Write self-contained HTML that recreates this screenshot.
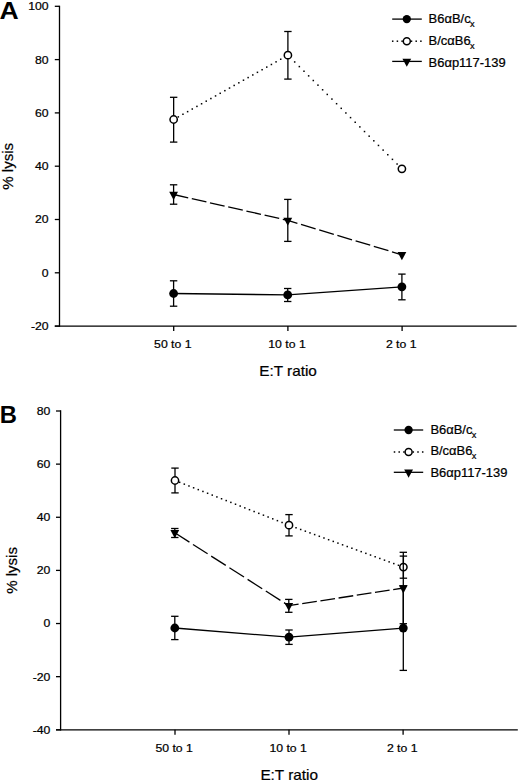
<!DOCTYPE html>
<html><head><meta charset="utf-8"><style>
html,body{margin:0;padding:0;background:#fff;}
body{width:520px;height:781px;overflow:hidden;}
svg{display:block;}
text{font-family:"Liberation Sans", sans-serif;fill:#000;}
</style></head><body>
<svg width="520" height="781" viewBox="0 0 520 781">
<line x1="59.50" y1="5.65" x2="59.50" y2="326.75" stroke="#000" stroke-width="1.3"/>
<line x1="54.80" y1="326.10" x2="516.60" y2="326.10" stroke="#000" stroke-width="1.3"/>
<line x1="54.80" y1="6.30" x2="59.50" y2="6.30" stroke="#000" stroke-width="1.3"/>
<text transform="translate(48.60,10.20) scale(1.075,1.0)" font-size="11.4" text-anchor="end" font-weight="normal" stroke="#000" stroke-width="0.22">100</text>
<line x1="54.80" y1="59.60" x2="59.50" y2="59.60" stroke="#000" stroke-width="1.3"/>
<text transform="translate(48.60,63.50) scale(1.075,1.0)" font-size="11.4" text-anchor="end" font-weight="normal" stroke="#000" stroke-width="0.22">80</text>
<line x1="54.80" y1="112.90" x2="59.50" y2="112.90" stroke="#000" stroke-width="1.3"/>
<text transform="translate(48.60,116.80) scale(1.075,1.0)" font-size="11.4" text-anchor="end" font-weight="normal" stroke="#000" stroke-width="0.22">60</text>
<line x1="54.80" y1="166.20" x2="59.50" y2="166.20" stroke="#000" stroke-width="1.3"/>
<text transform="translate(48.60,170.10) scale(1.075,1.0)" font-size="11.4" text-anchor="end" font-weight="normal" stroke="#000" stroke-width="0.22">40</text>
<line x1="54.80" y1="219.50" x2="59.50" y2="219.50" stroke="#000" stroke-width="1.3"/>
<text transform="translate(48.60,223.40) scale(1.075,1.0)" font-size="11.4" text-anchor="end" font-weight="normal" stroke="#000" stroke-width="0.22">20</text>
<line x1="54.80" y1="272.80" x2="59.50" y2="272.80" stroke="#000" stroke-width="1.3"/>
<text transform="translate(48.60,276.70) scale(1.075,1.0)" font-size="11.4" text-anchor="end" font-weight="normal" stroke="#000" stroke-width="0.22">0</text>
<line x1="54.80" y1="326.10" x2="59.50" y2="326.10" stroke="#000" stroke-width="1.3"/>
<text transform="translate(48.60,330.00) scale(1.075,1.0)" font-size="11.4" text-anchor="end" font-weight="normal" stroke="#000" stroke-width="0.22">-20</text>
<line x1="173.70" y1="326.10" x2="173.70" y2="331.10" stroke="#000" stroke-width="1.3"/>
<text transform="translate(172.80,348.00) scale(1.075,1.0)" font-size="11.4" text-anchor="middle" font-weight="normal" stroke="#000" stroke-width="0.22">50 to 1</text>
<line x1="287.90" y1="326.10" x2="287.90" y2="331.10" stroke="#000" stroke-width="1.3"/>
<text transform="translate(287.00,348.00) scale(1.075,1.0)" font-size="11.4" text-anchor="middle" font-weight="normal" stroke="#000" stroke-width="0.22">10 to 1</text>
<line x1="402.10" y1="326.10" x2="402.10" y2="331.10" stroke="#000" stroke-width="1.3"/>
<text transform="translate(401.20,348.00) scale(1.075,1.0)" font-size="11.4" text-anchor="middle" font-weight="normal" stroke="#000" stroke-width="0.22">2 to 1</text>
<text transform="translate(288.05,376.40) scale(1.05,1.0)" font-size="14.6" text-anchor="middle" font-weight="normal" stroke="#000" stroke-width="0.22">E:T ratio</text>
<text x="0.00" y="0.00" font-size="14.6" text-anchor="middle" font-weight="normal" stroke="#000" stroke-width="0.22" transform="translate(12.60,166.30) rotate(-90) scale(1.03,1.0)">% lysis</text>
<text transform="translate(-0.50,18.90) scale(1.09,1.0)" font-size="24.4" text-anchor="start" font-weight="bold">A</text>
<polyline points="173.60,293.50 287.70,294.90 401.90,286.80" fill="none" stroke="#000" stroke-width="1.3" stroke-linejoin="round"/>
<line x1="173.60" y1="280.80" x2="173.60" y2="306.20" stroke="#000" stroke-width="1.3"/>
<line x1="169.90" y1="280.80" x2="177.30" y2="280.80" stroke="#000" stroke-width="1.3"/>
<line x1="169.90" y1="306.20" x2="177.30" y2="306.20" stroke="#000" stroke-width="1.3"/>
<line x1="287.70" y1="288.50" x2="287.70" y2="301.50" stroke="#000" stroke-width="1.3"/>
<line x1="284.00" y1="288.50" x2="291.40" y2="288.50" stroke="#000" stroke-width="1.3"/>
<line x1="284.00" y1="301.50" x2="291.40" y2="301.50" stroke="#000" stroke-width="1.3"/>
<line x1="401.90" y1="274.10" x2="401.90" y2="299.80" stroke="#000" stroke-width="1.3"/>
<line x1="398.20" y1="274.10" x2="405.60" y2="274.10" stroke="#000" stroke-width="1.3"/>
<line x1="398.20" y1="299.80" x2="405.60" y2="299.80" stroke="#000" stroke-width="1.3"/>
<circle cx="173.60" cy="293.50" r="4.4" fill="#000"/>
<circle cx="287.70" cy="294.90" r="4.4" fill="#000"/>
<circle cx="401.90" cy="286.80" r="4.4" fill="#000"/>
<rect x="172.90" y="118.75" width="1.5" height="1.5" fill="#000"/>
<rect x="177.56" y="116.13" width="1.5" height="1.5" fill="#000"/>
<rect x="182.21" y="113.51" width="1.5" height="1.5" fill="#000"/>
<rect x="186.87" y="110.89" width="1.5" height="1.5" fill="#000"/>
<rect x="191.52" y="108.27" width="1.5" height="1.5" fill="#000"/>
<rect x="196.18" y="105.65" width="1.5" height="1.5" fill="#000"/>
<rect x="200.83" y="103.03" width="1.5" height="1.5" fill="#000"/>
<rect x="205.49" y="100.41" width="1.5" height="1.5" fill="#000"/>
<rect x="210.14" y="97.79" width="1.5" height="1.5" fill="#000"/>
<rect x="214.80" y="95.17" width="1.5" height="1.5" fill="#000"/>
<rect x="219.45" y="92.55" width="1.5" height="1.5" fill="#000"/>
<rect x="224.11" y="89.93" width="1.5" height="1.5" fill="#000"/>
<rect x="228.76" y="87.31" width="1.5" height="1.5" fill="#000"/>
<rect x="233.42" y="84.69" width="1.5" height="1.5" fill="#000"/>
<rect x="238.07" y="82.07" width="1.5" height="1.5" fill="#000"/>
<rect x="242.73" y="79.45" width="1.5" height="1.5" fill="#000"/>
<rect x="247.38" y="76.83" width="1.5" height="1.5" fill="#000"/>
<rect x="252.04" y="74.21" width="1.5" height="1.5" fill="#000"/>
<rect x="256.69" y="71.59" width="1.5" height="1.5" fill="#000"/>
<rect x="261.35" y="68.97" width="1.5" height="1.5" fill="#000"/>
<rect x="266.00" y="66.35" width="1.5" height="1.5" fill="#000"/>
<rect x="270.66" y="63.73" width="1.5" height="1.5" fill="#000"/>
<rect x="275.31" y="61.11" width="1.5" height="1.5" fill="#000"/>
<rect x="279.97" y="58.49" width="1.5" height="1.5" fill="#000"/>
<rect x="284.62" y="55.87" width="1.5" height="1.5" fill="#000"/>
<rect x="289.27" y="56.57" width="1.5" height="1.5" fill="#000"/>
<rect x="293.93" y="61.21" width="1.5" height="1.5" fill="#000"/>
<rect x="298.59" y="65.84" width="1.5" height="1.5" fill="#000"/>
<rect x="303.24" y="70.48" width="1.5" height="1.5" fill="#000"/>
<rect x="307.89" y="75.12" width="1.5" height="1.5" fill="#000"/>
<rect x="312.55" y="79.76" width="1.5" height="1.5" fill="#000"/>
<rect x="317.21" y="84.40" width="1.5" height="1.5" fill="#000"/>
<rect x="321.86" y="89.04" width="1.5" height="1.5" fill="#000"/>
<rect x="326.51" y="93.68" width="1.5" height="1.5" fill="#000"/>
<rect x="331.17" y="98.32" width="1.5" height="1.5" fill="#000"/>
<rect x="335.83" y="102.95" width="1.5" height="1.5" fill="#000"/>
<rect x="340.48" y="107.59" width="1.5" height="1.5" fill="#000"/>
<rect x="345.13" y="112.23" width="1.5" height="1.5" fill="#000"/>
<rect x="349.79" y="116.87" width="1.5" height="1.5" fill="#000"/>
<rect x="354.45" y="121.51" width="1.5" height="1.5" fill="#000"/>
<rect x="359.10" y="126.15" width="1.5" height="1.5" fill="#000"/>
<rect x="363.75" y="130.79" width="1.5" height="1.5" fill="#000"/>
<rect x="368.41" y="135.42" width="1.5" height="1.5" fill="#000"/>
<rect x="373.07" y="140.06" width="1.5" height="1.5" fill="#000"/>
<rect x="377.72" y="144.70" width="1.5" height="1.5" fill="#000"/>
<rect x="382.38" y="149.34" width="1.5" height="1.5" fill="#000"/>
<rect x="387.03" y="153.98" width="1.5" height="1.5" fill="#000"/>
<rect x="391.69" y="158.62" width="1.5" height="1.5" fill="#000"/>
<rect x="396.34" y="163.26" width="1.5" height="1.5" fill="#000"/>
<rect x="401.00" y="167.90" width="1.5" height="1.5" fill="#000"/>
<line x1="173.65" y1="97.30" x2="173.65" y2="142.10" stroke="#000" stroke-width="1.3"/>
<line x1="169.95" y1="97.30" x2="177.35" y2="97.30" stroke="#000" stroke-width="1.3"/>
<line x1="169.95" y1="142.10" x2="177.35" y2="142.10" stroke="#000" stroke-width="1.3"/>
<line x1="287.90" y1="31.50" x2="287.90" y2="79.10" stroke="#000" stroke-width="1.3"/>
<line x1="284.20" y1="31.50" x2="291.60" y2="31.50" stroke="#000" stroke-width="1.3"/>
<line x1="284.20" y1="79.10" x2="291.60" y2="79.10" stroke="#000" stroke-width="1.3"/>
<circle cx="173.65" cy="119.50" r="3.65" fill="#fff" stroke="#000" stroke-width="1.5"/>
<circle cx="287.90" cy="55.20" r="3.65" fill="#fff" stroke="#000" stroke-width="1.5"/>
<circle cx="401.90" cy="168.80" r="3.65" fill="#fff" stroke="#000" stroke-width="1.5"/>
<polyline points="173.60,194.50 188.20,197.81" fill="none" stroke="#000" stroke-width="1.3" stroke-linejoin="round"/>
<polyline points="191.80,198.63 206.40,201.94" fill="none" stroke="#000" stroke-width="1.3" stroke-linejoin="round"/>
<polyline points="210.00,202.76 224.60,206.07" fill="none" stroke="#000" stroke-width="1.3" stroke-linejoin="round"/>
<polyline points="228.20,206.88 242.80,210.19" fill="none" stroke="#000" stroke-width="1.3" stroke-linejoin="round"/>
<polyline points="246.40,211.01 261.00,214.32" fill="none" stroke="#000" stroke-width="1.3" stroke-linejoin="round"/>
<polyline points="264.60,215.14 279.20,218.45" fill="none" stroke="#000" stroke-width="1.3" stroke-linejoin="round"/>
<polyline points="282.80,219.27 287.80,220.40 297.40,223.29" fill="none" stroke="#000" stroke-width="1.3" stroke-linejoin="round"/>
<polyline points="301.00,224.38 315.60,228.78" fill="none" stroke="#000" stroke-width="1.3" stroke-linejoin="round"/>
<polyline points="319.20,229.87 333.80,234.27" fill="none" stroke="#000" stroke-width="1.3" stroke-linejoin="round"/>
<polyline points="337.40,235.35 352.00,239.76" fill="none" stroke="#000" stroke-width="1.3" stroke-linejoin="round"/>
<polyline points="355.60,240.84 370.20,245.24" fill="none" stroke="#000" stroke-width="1.3" stroke-linejoin="round"/>
<polyline points="373.80,246.33 388.40,250.73" fill="none" stroke="#000" stroke-width="1.3" stroke-linejoin="round"/>
<polyline points="392.00,251.82 401.90,254.80" fill="none" stroke="#000" stroke-width="1.3" stroke-linejoin="round"/>
<line x1="173.60" y1="184.80" x2="173.60" y2="204.20" stroke="#000" stroke-width="1.3"/>
<line x1="169.90" y1="184.80" x2="177.30" y2="184.80" stroke="#000" stroke-width="1.3"/>
<line x1="169.90" y1="204.20" x2="177.30" y2="204.20" stroke="#000" stroke-width="1.3"/>
<line x1="287.80" y1="199.40" x2="287.80" y2="241.40" stroke="#000" stroke-width="1.3"/>
<line x1="284.10" y1="199.40" x2="291.50" y2="199.40" stroke="#000" stroke-width="1.3"/>
<line x1="284.10" y1="241.40" x2="291.50" y2="241.40" stroke="#000" stroke-width="1.3"/>
<polygon points="169.20,191.80 178.00,191.80 173.60,199.90" fill="#000"/>
<polygon points="283.40,217.70 292.20,217.70 287.80,225.80" fill="#000"/>
<polygon points="397.50,252.10 406.30,252.10 401.90,260.20" fill="#000"/>
<line x1="392.20" y1="19.10" x2="421.80" y2="19.10" stroke="#000" stroke-width="1.3"/>
<circle cx="406.80" cy="19.10" r="4.15" fill="#000"/>
<text transform="translate(428.60,22.70) scale(1.08,1.0)" font-size="12" text-anchor="start" font-weight="normal" stroke="#000" stroke-width="0.22">B6&#945;B/c<tspan font-size="8.5" dx="-0.6" dy="3.9">x</tspan></text>
<rect x="391.95" y="40.45" width="1.5" height="1.5" fill="#000"/>
<rect x="396.65" y="40.45" width="1.5" height="1.5" fill="#000"/>
<rect x="401.35" y="40.45" width="1.5" height="1.5" fill="#000"/>
<rect x="406.05" y="40.45" width="1.5" height="1.5" fill="#000"/>
<rect x="410.75" y="40.45" width="1.5" height="1.5" fill="#000"/>
<rect x="415.45" y="40.45" width="1.5" height="1.5" fill="#000"/>
<rect x="420.15" y="40.45" width="1.5" height="1.5" fill="#000"/>
<circle cx="406.80" cy="41.20" r="3.5" fill="#fff" stroke="#000" stroke-width="1.5"/>
<text transform="translate(428.60,44.90) scale(1.08,1.0)" font-size="12" text-anchor="start" font-weight="normal" stroke="#000" stroke-width="0.22">B/c&#945;B6<tspan font-size="8.5" dx="-0.6" dy="3.9">x</tspan></text>
<line x1="392.20" y1="61.40" x2="421.80" y2="61.40" stroke="#000" stroke-width="1.3"/>
<polygon points="402.40,58.70 411.20,58.70 406.80,66.80" fill="#000"/>
<text transform="translate(428.60,66.70) scale(1.08,1.0)" font-size="12" text-anchor="start" font-weight="normal" stroke="#000" stroke-width="0.22">B6&#945;p117-139</text>
<line x1="60.60" y1="410.35" x2="60.60" y2="730.45" stroke="#000" stroke-width="1.3"/>
<line x1="56.00" y1="729.80" x2="517.80" y2="729.80" stroke="#000" stroke-width="1.3"/>
<line x1="56.00" y1="411.00" x2="60.60" y2="411.00" stroke="#000" stroke-width="1.3"/>
<text transform="translate(50.40,414.90) scale(1.075,1.0)" font-size="11.4" text-anchor="end" font-weight="normal" stroke="#000" stroke-width="0.22">80</text>
<line x1="56.00" y1="464.13" x2="60.60" y2="464.13" stroke="#000" stroke-width="1.3"/>
<text transform="translate(50.40,468.03) scale(1.075,1.0)" font-size="11.4" text-anchor="end" font-weight="normal" stroke="#000" stroke-width="0.22">60</text>
<line x1="56.00" y1="517.27" x2="60.60" y2="517.27" stroke="#000" stroke-width="1.3"/>
<text transform="translate(50.40,521.17) scale(1.075,1.0)" font-size="11.4" text-anchor="end" font-weight="normal" stroke="#000" stroke-width="0.22">40</text>
<line x1="56.00" y1="570.40" x2="60.60" y2="570.40" stroke="#000" stroke-width="1.3"/>
<text transform="translate(50.40,574.30) scale(1.075,1.0)" font-size="11.4" text-anchor="end" font-weight="normal" stroke="#000" stroke-width="0.22">20</text>
<line x1="56.00" y1="623.53" x2="60.60" y2="623.53" stroke="#000" stroke-width="1.3"/>
<text transform="translate(50.40,627.43) scale(1.075,1.0)" font-size="11.4" text-anchor="end" font-weight="normal" stroke="#000" stroke-width="0.22">0</text>
<line x1="56.00" y1="676.67" x2="60.60" y2="676.67" stroke="#000" stroke-width="1.3"/>
<text transform="translate(50.40,680.57) scale(1.075,1.0)" font-size="11.4" text-anchor="end" font-weight="normal" stroke="#000" stroke-width="0.22">-20</text>
<line x1="56.00" y1="729.80" x2="60.60" y2="729.80" stroke="#000" stroke-width="1.3"/>
<text transform="translate(50.40,733.70) scale(1.075,1.0)" font-size="11.4" text-anchor="end" font-weight="normal" stroke="#000" stroke-width="0.22">-40</text>
<line x1="175.00" y1="729.80" x2="175.00" y2="734.80" stroke="#000" stroke-width="1.3"/>
<text transform="translate(174.10,752.40) scale(1.075,1.0)" font-size="11.4" text-anchor="middle" font-weight="normal" stroke="#000" stroke-width="0.22">50 to 1</text>
<line x1="289.00" y1="729.80" x2="289.00" y2="734.80" stroke="#000" stroke-width="1.3"/>
<text transform="translate(288.10,752.40) scale(1.075,1.0)" font-size="11.4" text-anchor="middle" font-weight="normal" stroke="#000" stroke-width="0.22">10 to 1</text>
<line x1="403.10" y1="729.80" x2="403.10" y2="734.80" stroke="#000" stroke-width="1.3"/>
<text transform="translate(402.20,752.40) scale(1.075,1.0)" font-size="11.4" text-anchor="middle" font-weight="normal" stroke="#000" stroke-width="0.22">2 to 1</text>
<text transform="translate(289.20,779.60) scale(1.05,1.0)" font-size="14.6" text-anchor="middle" font-weight="normal" stroke="#000" stroke-width="0.22">E:T ratio</text>
<text x="0.00" y="0.00" font-size="14.6" text-anchor="middle" font-weight="normal" stroke="#000" stroke-width="0.22" transform="translate(17.10,570.40) rotate(-90) scale(1.03,1.0)">% lysis</text>
<text transform="translate(-0.20,423.00) scale(0.975,1.0)" font-size="24.4" text-anchor="start" font-weight="bold">B</text>
<polyline points="174.80,628.00 289.00,637.20 403.30,628.10" fill="none" stroke="#000" stroke-width="1.3" stroke-linejoin="round"/>
<line x1="174.80" y1="616.30" x2="174.80" y2="639.60" stroke="#000" stroke-width="1.3"/>
<line x1="171.10" y1="616.30" x2="178.50" y2="616.30" stroke="#000" stroke-width="1.3"/>
<line x1="171.10" y1="639.60" x2="178.50" y2="639.60" stroke="#000" stroke-width="1.3"/>
<line x1="289.00" y1="630.00" x2="289.00" y2="644.40" stroke="#000" stroke-width="1.3"/>
<line x1="285.30" y1="630.00" x2="292.70" y2="630.00" stroke="#000" stroke-width="1.3"/>
<line x1="285.30" y1="644.40" x2="292.70" y2="644.40" stroke="#000" stroke-width="1.3"/>
<line x1="403.30" y1="585.80" x2="403.30" y2="670.40" stroke="#000" stroke-width="1.3"/>
<line x1="399.60" y1="585.80" x2="407.00" y2="585.80" stroke="#000" stroke-width="1.3"/>
<line x1="399.60" y1="670.40" x2="407.00" y2="670.40" stroke="#000" stroke-width="1.3"/>
<circle cx="174.80" cy="628.00" r="4.4" fill="#000"/>
<circle cx="289.00" cy="637.20" r="4.4" fill="#000"/>
<circle cx="403.30" cy="628.10" r="4.4" fill="#000"/>
<rect x="174.25" y="479.75" width="1.5" height="1.5" fill="#000"/>
<rect x="178.91" y="481.58" width="1.5" height="1.5" fill="#000"/>
<rect x="183.56" y="483.40" width="1.5" height="1.5" fill="#000"/>
<rect x="188.22" y="485.23" width="1.5" height="1.5" fill="#000"/>
<rect x="192.87" y="487.05" width="1.5" height="1.5" fill="#000"/>
<rect x="197.53" y="488.88" width="1.5" height="1.5" fill="#000"/>
<rect x="202.18" y="490.70" width="1.5" height="1.5" fill="#000"/>
<rect x="206.84" y="492.53" width="1.5" height="1.5" fill="#000"/>
<rect x="211.49" y="494.35" width="1.5" height="1.5" fill="#000"/>
<rect x="216.15" y="496.18" width="1.5" height="1.5" fill="#000"/>
<rect x="220.80" y="498.00" width="1.5" height="1.5" fill="#000"/>
<rect x="225.46" y="499.83" width="1.5" height="1.5" fill="#000"/>
<rect x="230.11" y="501.65" width="1.5" height="1.5" fill="#000"/>
<rect x="234.76" y="503.48" width="1.5" height="1.5" fill="#000"/>
<rect x="239.42" y="505.30" width="1.5" height="1.5" fill="#000"/>
<rect x="244.07" y="507.13" width="1.5" height="1.5" fill="#000"/>
<rect x="248.73" y="508.95" width="1.5" height="1.5" fill="#000"/>
<rect x="253.38" y="510.78" width="1.5" height="1.5" fill="#000"/>
<rect x="258.04" y="512.60" width="1.5" height="1.5" fill="#000"/>
<rect x="262.69" y="514.43" width="1.5" height="1.5" fill="#000"/>
<rect x="267.35" y="516.25" width="1.5" height="1.5" fill="#000"/>
<rect x="272.00" y="518.08" width="1.5" height="1.5" fill="#000"/>
<rect x="276.66" y="519.91" width="1.5" height="1.5" fill="#000"/>
<rect x="281.31" y="521.73" width="1.5" height="1.5" fill="#000"/>
<rect x="285.97" y="523.56" width="1.5" height="1.5" fill="#000"/>
<rect x="290.62" y="525.32" width="1.5" height="1.5" fill="#000"/>
<rect x="295.28" y="527.02" width="1.5" height="1.5" fill="#000"/>
<rect x="299.94" y="528.73" width="1.5" height="1.5" fill="#000"/>
<rect x="304.59" y="530.43" width="1.5" height="1.5" fill="#000"/>
<rect x="309.25" y="532.14" width="1.5" height="1.5" fill="#000"/>
<rect x="313.90" y="533.84" width="1.5" height="1.5" fill="#000"/>
<rect x="318.56" y="535.55" width="1.5" height="1.5" fill="#000"/>
<rect x="323.21" y="537.25" width="1.5" height="1.5" fill="#000"/>
<rect x="327.87" y="538.96" width="1.5" height="1.5" fill="#000"/>
<rect x="332.52" y="540.66" width="1.5" height="1.5" fill="#000"/>
<rect x="337.18" y="542.37" width="1.5" height="1.5" fill="#000"/>
<rect x="341.83" y="544.07" width="1.5" height="1.5" fill="#000"/>
<rect x="346.49" y="545.78" width="1.5" height="1.5" fill="#000"/>
<rect x="351.14" y="547.48" width="1.5" height="1.5" fill="#000"/>
<rect x="355.80" y="549.19" width="1.5" height="1.5" fill="#000"/>
<rect x="360.45" y="550.89" width="1.5" height="1.5" fill="#000"/>
<rect x="365.11" y="552.60" width="1.5" height="1.5" fill="#000"/>
<rect x="369.76" y="554.30" width="1.5" height="1.5" fill="#000"/>
<rect x="374.42" y="556.01" width="1.5" height="1.5" fill="#000"/>
<rect x="379.07" y="557.71" width="1.5" height="1.5" fill="#000"/>
<rect x="383.73" y="559.42" width="1.5" height="1.5" fill="#000"/>
<rect x="388.38" y="561.12" width="1.5" height="1.5" fill="#000"/>
<rect x="393.04" y="562.83" width="1.5" height="1.5" fill="#000"/>
<rect x="397.69" y="564.53" width="1.5" height="1.5" fill="#000"/>
<rect x="402.35" y="566.24" width="1.5" height="1.5" fill="#000"/>
<line x1="175.00" y1="468.10" x2="175.00" y2="492.90" stroke="#000" stroke-width="1.3"/>
<line x1="171.30" y1="468.10" x2="178.70" y2="468.10" stroke="#000" stroke-width="1.3"/>
<line x1="171.30" y1="492.90" x2="178.70" y2="492.90" stroke="#000" stroke-width="1.3"/>
<line x1="289.00" y1="514.60" x2="289.00" y2="535.90" stroke="#000" stroke-width="1.3"/>
<line x1="285.30" y1="514.60" x2="292.70" y2="514.60" stroke="#000" stroke-width="1.3"/>
<line x1="285.30" y1="535.90" x2="292.70" y2="535.90" stroke="#000" stroke-width="1.3"/>
<line x1="403.40" y1="556.10" x2="403.40" y2="578.20" stroke="#000" stroke-width="1.3"/>
<line x1="399.70" y1="556.10" x2="407.10" y2="556.10" stroke="#000" stroke-width="1.3"/>
<line x1="399.70" y1="578.20" x2="407.10" y2="578.20" stroke="#000" stroke-width="1.3"/>
<circle cx="175.00" cy="480.50" r="3.65" fill="#fff" stroke="#000" stroke-width="1.5"/>
<circle cx="289.00" cy="525.20" r="3.65" fill="#fff" stroke="#000" stroke-width="1.5"/>
<circle cx="403.40" cy="567.10" r="3.65" fill="#fff" stroke="#000" stroke-width="1.5"/>
<polyline points="174.80,532.80 189.40,542.14" fill="none" stroke="#000" stroke-width="1.3" stroke-linejoin="round"/>
<polyline points="193.00,544.44 207.60,553.77" fill="none" stroke="#000" stroke-width="1.3" stroke-linejoin="round"/>
<polyline points="211.20,556.08 225.80,565.41" fill="none" stroke="#000" stroke-width="1.3" stroke-linejoin="round"/>
<polyline points="229.40,567.72 244.00,577.05" fill="none" stroke="#000" stroke-width="1.3" stroke-linejoin="round"/>
<polyline points="247.60,579.35 262.20,588.69" fill="none" stroke="#000" stroke-width="1.3" stroke-linejoin="round"/>
<polyline points="265.80,590.99 280.40,600.33" fill="none" stroke="#000" stroke-width="1.3" stroke-linejoin="round"/>
<polyline points="284.00,602.63 288.80,605.70 298.60,604.19" fill="none" stroke="#000" stroke-width="1.3" stroke-linejoin="round"/>
<polyline points="302.20,603.63 316.80,601.37" fill="none" stroke="#000" stroke-width="1.3" stroke-linejoin="round"/>
<polyline points="320.40,600.82 335.00,598.56" fill="none" stroke="#000" stroke-width="1.3" stroke-linejoin="round"/>
<polyline points="338.60,598.00 353.20,595.74" fill="none" stroke="#000" stroke-width="1.3" stroke-linejoin="round"/>
<polyline points="356.80,595.19 371.40,592.93" fill="none" stroke="#000" stroke-width="1.3" stroke-linejoin="round"/>
<polyline points="375.00,592.37 389.60,590.12" fill="none" stroke="#000" stroke-width="1.3" stroke-linejoin="round"/>
<polyline points="393.20,589.56 403.30,588.00" fill="none" stroke="#000" stroke-width="1.3" stroke-linejoin="round"/>
<line x1="174.80" y1="528.50" x2="174.80" y2="537.50" stroke="#000" stroke-width="1.3"/>
<line x1="171.10" y1="528.50" x2="178.50" y2="528.50" stroke="#000" stroke-width="1.3"/>
<line x1="171.10" y1="537.50" x2="178.50" y2="537.50" stroke="#000" stroke-width="1.3"/>
<line x1="288.80" y1="599.40" x2="288.80" y2="612.30" stroke="#000" stroke-width="1.3"/>
<line x1="285.10" y1="599.40" x2="292.50" y2="599.40" stroke="#000" stroke-width="1.3"/>
<line x1="285.10" y1="612.30" x2="292.50" y2="612.30" stroke="#000" stroke-width="1.3"/>
<line x1="403.30" y1="552.30" x2="403.30" y2="623.70" stroke="#000" stroke-width="1.3"/>
<line x1="399.60" y1="552.30" x2="407.00" y2="552.30" stroke="#000" stroke-width="1.3"/>
<line x1="399.60" y1="623.70" x2="407.00" y2="623.70" stroke="#000" stroke-width="1.3"/>
<polygon points="170.40,530.10 179.20,530.10 174.80,538.20" fill="#000"/>
<polygon points="284.40,603.00 293.20,603.00 288.80,611.10" fill="#000"/>
<polygon points="398.90,585.30 407.70,585.30 403.30,593.40" fill="#000"/>
<line x1="393.80" y1="430.00" x2="423.20" y2="430.00" stroke="#000" stroke-width="1.3"/>
<circle cx="408.60" cy="430.00" r="4.15" fill="#000"/>
<text transform="translate(430.40,433.70) scale(1.08,1.0)" font-size="12" text-anchor="start" font-weight="normal" stroke="#000" stroke-width="0.22">B6&#945;B/c<tspan font-size="8.5" dx="-0.6" dy="3.9">x</tspan></text>
<rect x="393.75" y="451.25" width="1.5" height="1.5" fill="#000"/>
<rect x="398.45" y="451.25" width="1.5" height="1.5" fill="#000"/>
<rect x="403.15" y="451.25" width="1.5" height="1.5" fill="#000"/>
<rect x="407.85" y="451.25" width="1.5" height="1.5" fill="#000"/>
<rect x="412.55" y="451.25" width="1.5" height="1.5" fill="#000"/>
<rect x="417.25" y="451.25" width="1.5" height="1.5" fill="#000"/>
<rect x="421.95" y="451.25" width="1.5" height="1.5" fill="#000"/>
<circle cx="408.60" cy="452.00" r="3.5" fill="#fff" stroke="#000" stroke-width="1.5"/>
<text transform="translate(430.40,455.20) scale(1.08,1.0)" font-size="12" text-anchor="start" font-weight="normal" stroke="#000" stroke-width="0.22">B/c&#945;B6<tspan font-size="8.5" dx="-0.6" dy="3.9">x</tspan></text>
<line x1="393.80" y1="472.30" x2="423.20" y2="472.30" stroke="#000" stroke-width="1.3"/>
<polygon points="404.20,469.60 413.00,469.60 408.60,477.70" fill="#000"/>
<text transform="translate(430.40,477.20) scale(1.08,1.0)" font-size="12" text-anchor="start" font-weight="normal" stroke="#000" stroke-width="0.22">B6&#945;p117-139</text>
</svg>
</body></html>
